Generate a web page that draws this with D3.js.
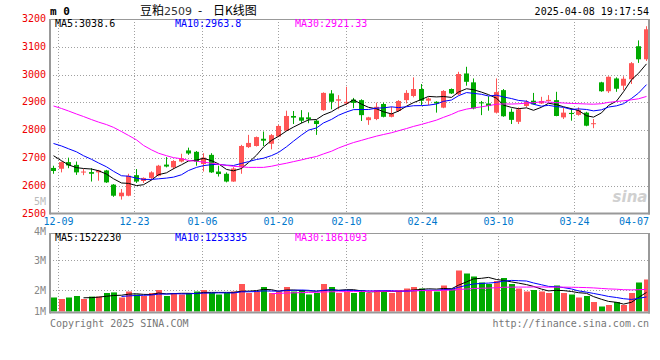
<!DOCTYPE html>
<html><head><meta charset="utf-8">
<script src="https://cdn.jsdelivr.net/npm/d3@7"></script>
<style>body{margin:0;background:#fff}svg{display:block}</style>
</head><body>
<script>
// ---------- DATA ----------
const dates = ["12-06","12-09","12-10","12-11","12-12","12-13","12-16","12-17","12-18","12-19","12-20",
"12-23","12-24","12-25","12-26","12-27","12-30","12-31","01-02","01-03","01-06","01-07","01-08","01-09","01-10",
"01-13","01-14","01-15","01-16","01-17","01-20","01-21","01-22","01-23","01-24","01-27","02-05","02-06","02-07",
"02-10","02-11","02-12","02-13","02-14","02-17","02-18","02-19","02-20","02-21","02-24","02-25","02-26","02-27","02-28",
"03-03","03-04","03-05","03-06","03-07","03-10","03-11","03-12","03-13","03-14","03-17","03-18","03-19","03-20","03-21",
"03-24","03-25","03-26","03-27","03-28","03-31","04-01","04-02","04-03","04-07","04-08"];
const open  = [2664,2661,2685,2675,2649,2649,2648,2655,2604,2562,2564,2638,2617,2628,2636,2676,2666,2687,2727,2722,
2678,2711,2651,2643,2615,2666,2739,2743,2769,2751,2777,2798,2851,2846,2846,2834,2872,2932,2906,2896,
2910,2908,2836,2840,2894,2848,2869,2908,2923,2948,2906,2902,2881,2948,2929,3004,2972,2900,2896,2863,
2944,2866,2830,2887,2906,2896,2905,2908,2846,2862,2855,2863,2822,2972,2940,2986,2960,2983,3102,3055];
const high  = [2672,2687,2701,2687,2660,2663,2657,2657,2606,2588,2643,2660,2630,2652,2675,2703,2692,2715,2737,2725,
2717,2717,2672,2648,2667,2747,2783,2777,2795,2786,2819,2870,2869,2872,2864,2837,2936,2944,2926,2956,
2916,2911,2848,2899,2899,2884,2908,2944,2990,2966,2918,2904,2944,2950,3010,3028,2986,2905,2922,2986,
2948,2878,2882,2908,2934,2920,2926,2938,2880,2878,2882,2866,2840,2974,2994,2990,2994,3045,3123,3174];
const low   = [2643,2648,2663,2639,2638,2615,2618,2610,2560,2550,2562,2610,2610,2620,2634,2666,2659,2684,2711,2672,
2651,2646,2633,2612,2614,2643,2736,2741,2743,2731,2775,2797,2822,2825,2825,2783,2870,2875,2875,2890,
2879,2833,2819,2836,2846,2846,2866,2896,2918,2890,2890,2863,2879,2930,2926,2960,2875,2854,2870,2860,
2848,2822,2822,2882,2893,2894,2903,2850,2840,2834,2852,2814,2807,2938,2934,2938,2944,2966,3042,3049];
const close = [2653,2685,2673,2648,2651,2643,2655,2612,2564,2575,2636,2615,2628,2648,2672,2669,2689,2699,2716,2687,
2701,2648,2642,2615,2662,2743,2754,2775,2762,2782,2815,2851,2845,2834,2839,2822,2934,2902,2911,2902,
2898,2854,2846,2884,2848,2860,2905,2934,2948,2906,2914,2896,2941,2932,3002,2974,2878,2898,2887,2937,
2850,2837,2875,2902,2893,2905,2909,2851,2863,2858,2872,2816,2825,2940,2992,2949,2985,3041,3055,3163];
const volume = [1.75,1.70,1.75,1.80,1.70,1.78,1.78,1.90,1.92,1.75,1.95,1.85,1.80,1.90,2.00,1.80,1.90,1.85,1.90,1.95,
2.00,1.90,1.85,1.90,1.95,2.20,1.90,1.95,2.10,1.90,1.95,2.10,1.95,2.00,1.85,1.90,2.20,2.10,1.90,1.95,
1.90,2.00,1.90,2.00,1.95,1.90,2.00,2.05,2.10,2.05,2.00,1.95,2.15,2.05,2.65,2.55,2.45,2.25,2.20,2.30,
2.40,2.20,2.05,1.95,2.00,1.95,1.90,2.15,1.90,1.85,1.75,1.80,1.60,1.45,1.50,1.60,1.50,1.90,2.25,2.35].map(v=>v*1e6);
// moving-average values before enough history exists
const ma5Head  = [2708,2690,2675,2665];
const ma10Head = [2752,2743,2733,2722,2708,2695,2682,2668,2652];
const ma30Head = [2887,2878,2869,2858,2849,2838,2829,2820,2810,2795,2781,2765,2745,2729,2717,2708,2701,2697,2691,2688,
2685,2681,2677,2673,2670,2668,2666,2666,2666];
const priceTicks = [2500,2600,2700,2800,2900,3000,3100,3200];
const volTicks = [1e6,2e6,3e6,4e6];
const volTickLabels = ["1M","2M","3M","4M"];
const dateTicks = ["12-09","12-23","01-06","01-20","02-10","02-24","03-10","03-24","04-07"];
const legendPrice = ["MA5:3038.6","MA10:2963.8","MA30:2921.33"];
const legendVol = ["MA5:1522230","MA10:1253335","MA30:1861093"];
const maColors = ["#000000","#0000ff","#ff00ff"];

// ---------- DRAW ----------
const W=660,H=360;
const RED="#ff5555", GREEN="#00aa00", GRID="#a0a0a0", FRAME="#999999";
const MONO="'DejaVu Sans Mono', monospace";
const svg=d3.select("body").append("svg").attr("width",W).attr("height",H)
  .style("font-family",MONO);
const n=dates.length;
const L=50, Rr=649.5, PT=19, PB=213.5, VT=233, VB=311.5;
const x=d3.scaleBand().domain(d3.range(n)).range([49.5,649.5]);
const cx=i=>Math.round(x(i)+x.bandwidth()/2);
const gx=d3.scaleLinear().domain([0,n-1]).range([50,650]);
const y=d3.scaleLinear().domain([2500,3200]).range([PB,PT]);
const yv=d3.scaleLinear().domain([2e6,3e6]).range([290,260]);

function ma(arr,k,head){return arr.map((v,i)=> i<k-1? head[i] : d3.mean(arr.slice(i-k+1,i+1)));}

// header
svg.append("text").attr("x",50).attr("y",15).attr("font-size",11).attr("font-weight","bold").text("m 0");
const CJK="'Noto Sans CJK SC', sans-serif";
svg.append("text").attr("x",140).attr("y",15).attr("font-size",12).style("font-family",CJK).text("豆粕");
svg.append("text").attr("x",164).attr("y",15).attr("font-size",11).attr("fill","#333").style("font-family","'DejaVu Sans', sans-serif").text("2509");
svg.append("text").attr("x",200).attr("y",15).attr("font-size",12).attr("text-anchor","middle").style("font-family",CJK).text("-");
svg.append("text").attr("x",213).attr("y",15).attr("font-size",12).style("font-family",CJK).text("日K线图");
svg.append("text").attr("x",649).attr("y",15).attr("text-anchor","end").attr("font-size",10).text("2025-04-08 19:17:54");

// grids main
const gm=svg.append("g");
priceTicks.filter(t=>t>2500&&t<3200).forEach(t=>{
  gm.append("line").attr("x1",L).attr("x2",Rr).attr("y1",Math.round(y(t))+0.5).attr("y2",Math.round(y(t))+0.5)
   .attr("stroke",GRID).attr("stroke-dasharray","1,2");
});
dateTicks.forEach((d,k)=>{
  const i=dates.indexOf(d); const gxv=Math.round(gx(i))+0.5;
  if(k<dateTicks.length-1){
    gm.append("line").attr("x1",gxv).attr("x2",gxv).attr("y1",PT).attr("y2",PB).attr("stroke",GRID).attr("stroke-dasharray","1,2");
    gm.append("line").attr("x1",gxv).attr("x2",gxv).attr("y1",VT).attr("y2",VB).attr("stroke",GRID).attr("stroke-dasharray","1,2");
  }
  const t=svg.append("text").attr("y",225).attr("font-size",10).attr("fill","#0077cc").text(d);
  if(k===dateTicks.length-1) t.attr("x",649).attr("text-anchor","end"); else t.attr("x",gxv).attr("text-anchor","middle");
});
// volume horizontal grids
volTicks.filter(v=>yv(v)>VT+2&&yv(v)<VB-2).forEach(v=>{
  gm.append("line").attr("x1",L).attr("x2",Rr).attr("y1",Math.round(yv(v))+0.5).attr("y2",Math.round(yv(v))+0.5)
   .attr("stroke",GRID).attr("stroke-dasharray","1,2");
});

// y labels
priceTicks.forEach(t=>{
  svg.append("text").attr("x",46).attr("y",Math.max(16,y(t)-0.5)).attr("dominant-baseline","central")
   .attr("text-anchor","end").attr("font-size",10).attr("fill","#ee0000").text(t);
});
svg.append("text").attr("x",46).attr("y",201).attr("dominant-baseline","central").attr("text-anchor","end")
  .attr("font-size",10).attr("fill","#bbbbbb").text("5M");
volTicks.forEach((v,k)=>{
  svg.append("text").attr("x",46).attr("y",Math.min(311,Math.max(231,yv(v)))).attr("dominant-baseline","central")
   .attr("text-anchor","end").attr("font-size",10).attr("fill","#888").text(volTickLabels[k]);
});

// watermark
svg.append("text").attr("x",630).attr("y",202).attr("text-anchor","middle").attr("font-size",15)
  .attr("font-style","italic").attr("font-weight","bold").attr("fill","#d0d0d0")
  .style("font-family","'DejaVu Sans', sans-serif").text("sina");

// candles
const gc=svg.append("g");
d3.range(n).forEach(i=>{
  const up=close[i]>=open[i]; const col=up?RED:GREEN; const c=cx(i);
  gc.append("line").attr("x1",c+0.5).attr("x2",c+0.5).attr("y1",y(high[i])).attr("y2",y(low[i])).attr("stroke",col);
  const yt=y(Math.max(open[i],close[i])), yb=y(Math.min(open[i],close[i]));
  gc.append("rect").attr("x",c-2).attr("width",5).attr("y",yt).attr("height",Math.max(1,yb-yt)).attr("fill",col);
  const vt=yv(volume[i]);
  gc.append("rect").attr("x",c-2).attr("width",6).attr("y",vt).attr("height",Math.max(0,VB-vt)).attr("fill",col);
});

// MA lines
const closeMA=[ma(close,5,ma5Head),ma(close,10,ma10Head),ma(close,30,ma30Head)];
closeMA.forEach((arr,k)=>{
  svg.append("path").datum(arr).attr("fill","none").attr("stroke",maColors[k]).attr("stroke-width",1)
   .attr("d",d3.line().x((d,i)=>cx(i)+0.5).y(d=>y(d)));
});
const vMA=[5,10,30].map(k=>volume.map((v,i)=> i<k-1?null:d3.mean(volume.slice(i-k+1,i+1))));
vMA.forEach((arr,k)=>{
  svg.append("path").datum(arr).attr("fill","none").attr("stroke",maColors[k]).attr("stroke-width",1)
   .attr("d",d3.line().defined(d=>d!=null).x((d,i)=>cx(i)+0.5).y(d=>yv(d)));
});

// frames
const fr=svg.append("g").attr("stroke",FRAME).attr("fill","none");
fr.append("line").attr("x1",L).attr("x2",Rr).attr("y1",PT+0.5).attr("y2",PT+0.5);
fr.append("line").attr("x1",L).attr("x2",650).attr("y1",PB).attr("y2",PB).attr("stroke-width",2);
fr.append("line").attr("x1",L).attr("x2",L).attr("y1",PT).attr("y2",PB+1).attr("stroke-width",2);
fr.append("line").attr("x1",649).attr("x2",649).attr("y1",PT).attr("y2",PB+1).attr("stroke-width",2);
fr.append("line").attr("x1",L).attr("x2",Rr).attr("y1",VT+0.5).attr("y2",VT+0.5);
fr.append("line").attr("x1",L).attr("x2",650).attr("y1",VB+1).attr("y2",VB+1).attr("stroke-width",2);
fr.append("line").attr("x1",L).attr("x2",L).attr("y1",VT).attr("y2",VB+2).attr("stroke-width",2);
fr.append("line").attr("x1",649).attr("x2",649).attr("y1",VT).attr("y2",VB+2).attr("stroke-width",2);

// legends
[55,175,295].forEach((lx,k)=>{
  svg.append("text").attr("x",lx).attr("y",27).attr("font-size",10).attr("fill",maColors[k]).text(legendPrice[k]);
  svg.append("text").attr("x",lx).attr("y",241).attr("font-size",10).attr("fill",maColors[k]).text(legendVol[k]);
});

// footer
svg.append("text").attr("x",50).attr("y",327).attr("font-size",10).attr("fill","#777").text("Copyright 2025 SINA.COM");
svg.append("text").attr("x",649).attr("y",327).attr("text-anchor","end").attr("font-size",10).attr("fill","#777").text("http://finance.sina.com.cn");
</script>
</body></html>
